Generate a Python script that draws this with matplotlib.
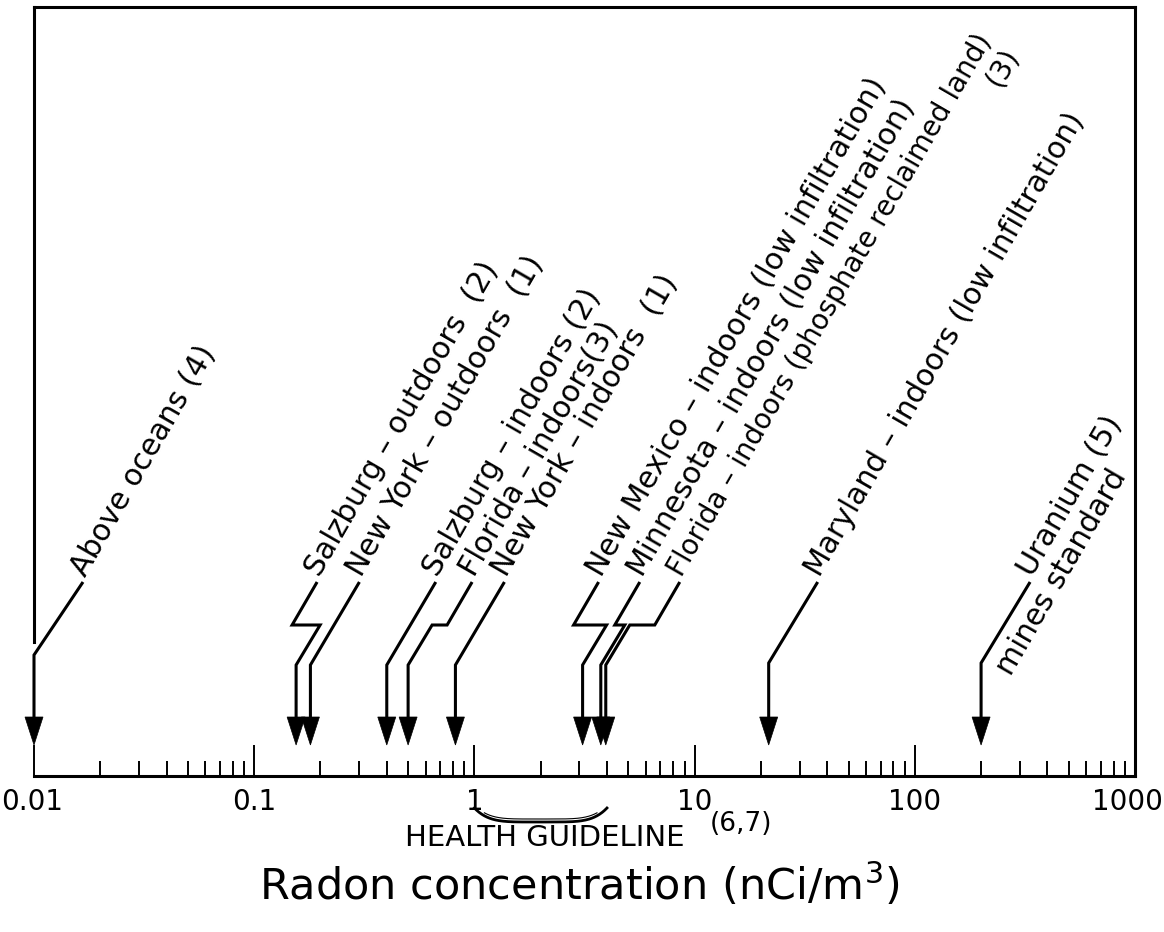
import numpy as np
import matplotlib
matplotlib.use("Agg")
import matplotlib.pyplot as plt
from matplotlib.ticker import FixedLocator, LogLocator, NullFormatter
from matplotlib.transforms import ScaledTranslation

plt.rcParams['font.family'] = ['DejaVu Sans']
plt.rcParams['mathtext.fontset'] = 'dejavusans'

# ---------------- data ----------------
labels = [
    "Above oceans (4)",
    "Salzburg – outdoors  (2)",
    "New York – outdoors  (1)",
    "Salzburg – indoors (2)",
    "Florida – indoors(3)",
    "New York – indoors  (1)",
    "New Mexico – indoors (low infiltration)",
    "Minnesota – indoors (low infiltration)",
    "Florida – indoors (phosphate reclaimed land)",
    "Maryland – indoors (low infiltration)",
    "Uranium (5)",
]
values = [0.01, 0.155, 0.18, 0.40, 0.50, 0.82, 3.1, 3.75, 3.95, 21.7, 200]
extra_labels = {8: "(3)", 10: "mines standard"}
tick_values = [0.01, 0.1, 1, 10, 100, 1000]
tick_labels = ["0.01", "0.1", "1", "10", "100", "1000"]
guideline = [1, 4]
guideline_label = "HEALTH GUIDELINE"
guideline_refs = "(6,7)"
xlabel = "Radon concentration (nCi/m$^{3}$)"

# ---------------- layout (pixels) ----------------
W, H = 1164, 932
L, R, T, B = 34, 1135, 7, 776
fig = plt.figure(figsize=(W / 100, H / 100), dpi=100)
ax = fig.add_axes([L / W, 1 - B / H, (R - L) / W, (B - T) / H])
ax.set_xscale('log')
ax.set_xlim(tick_values[0], tick_values[-1])
ax.set_ylim(0, B - T)
PPD = (R - L) / 5.0  # pixels per decade


def xoff(v, dx):
    return v * 10 ** (dx / PPD)


def Y(img_y):
    return B - img_y


def X(img_x):
    return 10 ** (np.log10(tick_values[0]) + (img_x - L) / PPD)


# jog of the horizontal kink in each leader (0 = straight leader)
jogs = [0, -28, 0, 0, 15, 0, -33, -10, 25, 0, 0]
bends = [655, 665, 665, 665, 665, 665, 665, 665, 665, 663, 663]
font_sizes = [21.5, 21.5, 21.5, 21.5, 21.5, 21.5, 21.5, 21.5, 20.0, 21.5, 21.5]
TIP, HEAD, KNEE, TOP = 745, 717, 625, 582
LW = 2.2
ANG = 60.0
ca, sa = np.cos(np.radians(ANG)), np.sin(np.radians(ANG))

for i, (v, lab) in enumerate(zip(values, labels)):
    jog = jogs[i]
    bend = bends[i]
    fs = font_sizes[i]
    if jog == 0:
        xs = [v, v, xoff(v, 49)]
        ys = [Y(HEAD + 2), Y(bend), Y(TOP)]
    else:
        xs = [v, v, xoff(v, 24), xoff(v, 24 + jog), xoff(v, 49 + jog)]
        ys = [Y(HEAD + 2), Y(bend), Y(KNEE), Y(KNEE), Y(TOP)]
    ax.plot(xs, ys, color='black', lw=LW, solid_joinstyle='miter',
            solid_capstyle='butt', clip_on=False)
    ax.fill([xoff(v, -9), xoff(v, 9), v], [Y(HEAD), Y(HEAD), Y(TIP)],
            color='black', lw=0.5, clip_on=False)
    gap = 5
    ax.annotate(lab, xy=(xs[-1], ys[-1]), xytext=(gap * ca, gap * sa),
                textcoords='offset pixels', rotation=ANG, rotation_mode='anchor',
                ha='left', va='baseline', fontsize=fs)
    if i in extra_labels:
        if i == 8:
            t, h = 588, 30
        else:
            t, h = -92, 31
        ax.annotate(extra_labels[i], xy=(xs[-1], ys[-1]),
                    xytext=(t * ca + h * sa, t * sa - h * ca),
                    textcoords='offset pixels', rotation=ANG,
                    rotation_mode='anchor', ha='left', va='baseline', fontsize=fs)

# ---------------- axes styling ----------------
for s in ['top', 'right', 'bottom']:
    ax.spines[s].set_linewidth(LW)
ax.spines['left'].set_visible(False)
ax.plot([tick_values[0], tick_values[0]], [Y(642), Y(T)], color='black', lw=LW,
        solid_capstyle='projecting', clip_on=False)

ax.xaxis.set_major_locator(FixedLocator(tick_values))
ax.set_xticklabels(tick_labels)
ax.xaxis.set_minor_locator(LogLocator(base=10, subs=np.arange(2, 10)))
ax.xaxis.set_minor_formatter(NullFormatter())
ax.tick_params(axis='x', which='major', direction='in', length=22, width=1.4,
               labelsize=20, pad=9)
ax.tick_params(axis='x', which='minor', direction='in', length=11, width=1.4)
ax.set_yticks([])
# nudge the first and last tick labels so they stay inside the picture
edge_shift = {0: -2, len(tick_values) - 1: -8}
for k, lab in enumerate(ax.get_xticklabels()):
    if k in edge_shift:
        lab.set_transform(lab.get_transform() +
                          ScaledTranslation(edge_shift[k] / 100, 0, fig.dpi_scale_trans))

# ---------------- health guideline brace ----------------
tt = np.linspace(0, 1, 200)
lg0, lg1 = np.log10(guideline[0]), np.log10(guideline[1])
bx = 10 ** (lg0 + tt * (lg1 - lg0))
by = 822 - 14 * np.abs(2 * tt - 1) ** 5
ax.plot(bx, Y(by), color='black', lw=2.0, clip_on=False)
ax.plot(bx[15:185], Y(by[15:185] - 3), color='black', lw=0.8, clip_on=False)
ax.text(X(545), Y(846), guideline_label, ha='center', va='baseline',
        fontsize=21, clip_on=False)
ax.text(X(710), Y(831), guideline_refs, ha='left', va='baseline',
        fontsize=19, clip_on=False)

ax.text(X(579), Y(900), xlabel, ha='center', va='baseline', fontsize=31,
        clip_on=False)

fig.savefig("out.png", dpi=100)
